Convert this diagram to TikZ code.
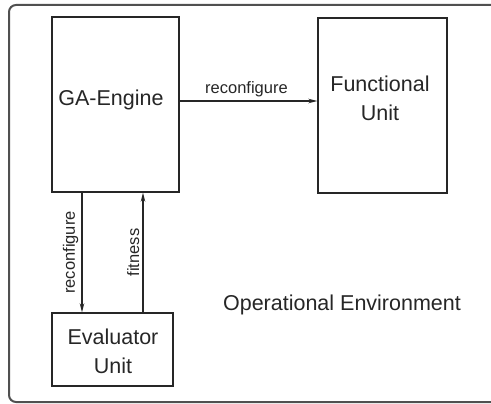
\documentclass[tikz,border=0pt]{standalone}
\usepackage{fontspec}
\setmainfont{Liberation Sans}
\usetikzlibrary{arrows.meta}
\definecolor{ink}{HTML}{262626}
\definecolor{frame}{HTML}{505050}
\begin{document}
\begin{tikzpicture}[x=1pt,y=-1pt,
  unitbox/.style={draw=ink,line width=1.4pt,minimum width=#1,inner sep=0pt},
  boxtext/.style={text=ink,font=\fontsize{21.5}{29}\selectfont,align=center,inner sep=0pt},
  edgetext/.style={text=ink,font=\fontsize{16.5}{20}\selectfont,inner sep=3pt},
  flow/.style={draw=ink,line width=1.2pt,-{Stealth[length=9pt,width=4.5pt]}}]
\useasboundingbox (0,0) rectangle (491,404);
\clip (0,0) rectangle (491,404);
% operational environment frame
\draw[frame,line width=2pt,rounded corners=7pt] (9,5) rectangle (520,402);
% units
\node[unitbox=127pt,minimum height=175pt] (ga) at (115.5,104.5) {};
\node[unitbox=129pt,minimum height=175pt] (fu) at (382.5,105.5) {};
\node[unitbox=121pt,minimum height=73pt] (ev) at (112.5,349.5) {};
\node[boxtext] (galabel) at (111,100) {GA-Engine};
\node[boxtext] (fulabel) at (380,98) {Functional\\Unit};
\node[boxtext] (evlabel) at (113,351) {Evaluator\\Unit};
\node[boxtext] (envlabel) at (342,305) {Operational Environment};
% connectors
\draw[flow] ([yshift=3.5pt]ga.east) -- ([yshift=4.5pt]fu.west)
  node[edgetext,midway,above,xshift=-2pt] (l1) {reconfigure};
\draw[flow] (ga.south -| 82,0) -- (ev.north -| 82,0)
  node[edgetext,midway,rotate=90,above] (l2) {reconfigure};
\draw[flow] (ev.north -| 143,0) -- (ga.south -| 143,0)
  node[edgetext,midway,rotate=90,above] (l3) {fitness};
\end{tikzpicture}
\end{document}
